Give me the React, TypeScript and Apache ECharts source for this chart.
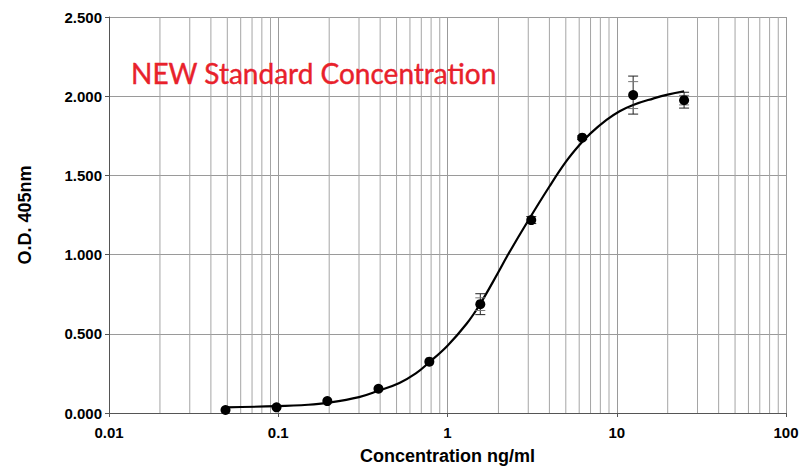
import React, { useEffect, useRef } from "react";
import * as echarts from "echarts";

// Standard concentrations (ng/ml), 2-fold dilutions
const concentrations = [0.0488, 0.0977, 0.195, 0.391, 0.781, 1.5625, 3.125, 6.25, 12.5, 25];
// Mean O.D. 405nm
const odMeans = [0.019, 0.036, 0.075, 0.153, 0.324, 0.687, 1.218, 1.738, 2.007, 1.975];
// Error bars (outer and inner caps)
const odErrors = [0, 0, 0, 0, 0, 0.066, 0.022, 0.012, 0.12, 0.05];
const odErrorsInner = [0, 0, 0, 0, 0, 0.04, 0, 0, 0.085, 0.03];

// Fitted curve points
const curveX = [0.0488, 0.0977, 0.15, 0.195, 0.3, 0.39, 0.52, 0.65, 0.78, 1.0, 1.3, 1.5625, 2.0, 2.25, 3.0, 4.0, 5.0, 6.0, 7.0, 8.7, 10.4, 12.5, 16.4, 20, 25];
const curveY = [0.036, 0.043, 0.052, 0.064, 0.10, 0.14, 0.19, 0.25, 0.32, 0.425, 0.565, 0.69, 0.89, 0.99, 1.215, 1.43, 1.585, 1.69, 1.765, 1.85, 1.905, 1.945, 1.985, 2.01, 2.03];

// Axis ticks
const xTickLabels = ["0.01", "0.1", "1", "10", "100"];
const yTicks = [0, 0.5, 1.0, 1.5, 2.0, 2.5];
const decades = [0.01, 0.1, 1, 10];
const minorMultipliers = [2, 3, 4, 5, 6, 7, 8, 9];

const titleText = "NEW Standard Concentration";
const xAxisTitle = "Concentration ng/ml";
const yAxisTitle = "O.D. 405nm";

export default function App() {
  const ref = useRef<HTMLDivElement>(null);
  useEffect(() => {
    document.body.style.margin = "0";
    const chart = echarts.init(ref.current!, null, { renderer: "svg" });
    const minorGrid: number[][] = [];
    decades.forEach((d) => minorMultipliers.forEach((m) => minorGrid.push([parseFloat((d * m).toPrecision(3)), 0])));
    const yMin = yTicks[0];
    const yMax = yTicks[yTicks.length - 1];
    const labelFont = { fontFamily: "Liberation Sans, Arial, sans-serif", fontWeight: "bold" as const, color: "#000" };

    chart.setOption({
      animation: false,
      grid: { left: 109, right: 14, top: 17, bottom: 54, containLabel: false, outerBoundsMode: "none" },
      xAxis: {
        type: "log",
        logBase: 10,
        min: 0.01,
        max: 100,
        name: xAxisTitle,
        nameLocation: "middle",
        nameGap: 34,
        nameTextStyle: { ...labelFont, fontSize: 18 },
        axisLine: { show: true, lineStyle: { color: "#555", width: 1 } },
        axisTick: { show: true, length: 4, lineStyle: { color: "#555" } },
        axisLabel: {
          ...labelFont,
          fontSize: 15,
          margin: 12,
          formatter: (v: number) => {
            const idx = Math.round(Math.log10(v)) + 2;
            return xTickLabels[idx] ?? String(v);
          },
        },
        splitLine: { show: true, lineStyle: { color: "#9a9a9a", width: 1 } },
      },
      yAxis: {
        type: "value",
        min: yMin,
        max: yMax,
        interval: 0.5,
        name: yAxisTitle,
        nameLocation: "middle",
        nameRotate: 90,
        nameGap: 75,
        nameTextStyle: { ...labelFont, fontSize: 18 },
        axisLine: { show: true, lineStyle: { color: "#555", width: 1 } },
        axisTick: { show: true, length: 4, lineStyle: { color: "#555" } },
        axisLabel: { ...labelFont, fontSize: 15, margin: 7, formatter: (v: number) => v.toFixed(3) },
        splitLine: { show: true, lineStyle: { color: "#9a9a9a", width: 1 } },
      },
      graphic: [
        {
          type: "text",
          x: 131,
          y: 73,
          z: 10,
          style: {
            text: titleText,
            fontFamily: "Lato, 'Open Sans', sans-serif",
            fontSize: 28,
            fill: "#e8212b",
            stroke: "#e8212b",
            lineWidth: 0.4,
            textAlign: "left",
            textVerticalAlign: "middle",
          },
        },
      ],
      series: [
        {
          type: "custom",
          silent: true,
          z: 1,
          data: minorGrid,
          renderItem: (params: any, api: any) => {
            const p1 = api.coord([api.value(0), yMin]);
            const p2 = api.coord([api.value(0), yMax]);
            return {
              type: "line",
              shape: { x1: p1[0], y1: p1[1], x2: p2[0], y2: p2[1] },
              style: { stroke: "#a5a5a5", lineWidth: 1 },
            };
          },
        },
        {
          type: "line",
          z: 3,
          smooth: 0.4,
          showSymbol: false,
          symbol: "none",
          data: curveX.map((x, i) => [x, curveY[i]]),
          lineStyle: { color: "#000", width: 2.2 },
        },
        {
          type: "custom",
          z: 4,
          silent: true,
          data: concentrations.map((x, i) => [x, odMeans[i], odErrors[i], odErrorsInner[i]]),
          renderItem: (params: any, api: any) => {
            const x = api.value(0);
            const y = api.value(1);
            const e = api.value(2);
            const ei = api.value(3);
            const children: any[] = [];
            const st = { stroke: "#222", lineWidth: 1 };
            if (e > 0) {
              const top = api.coord([x, y + e]);
              const bot = api.coord([x, y - e]);
              children.push({ type: "line", shape: { x1: top[0], y1: top[1], x2: bot[0], y2: bot[1] }, style: st });
              children.push({ type: "line", shape: { x1: top[0] - 5, y1: top[1], x2: top[0] + 5, y2: top[1] }, style: st });
              children.push({ type: "line", shape: { x1: bot[0] - 5, y1: bot[1], x2: bot[0] + 5, y2: bot[1] }, style: st });
            }
            if (ei > 0) {
              const top = api.coord([x, y + ei]);
              const bot = api.coord([x, y - ei]);
              children.push({ type: "line", shape: { x1: top[0] - 5, y1: top[1], x2: top[0] + 5, y2: top[1] }, style: { stroke: "#777", lineWidth: 1 } });
              children.push({ type: "line", shape: { x1: bot[0] - 5, y1: bot[1], x2: bot[0] + 5, y2: bot[1] }, style: { stroke: "#777", lineWidth: 1 } });
            }
            return { type: "group", children };
          },
        },
        {
          type: "scatter",
          z: 5,
          symbol: "circle",
          symbolSize: 10,
          data: concentrations.map((x, i) => [x, odMeans[i]]),
          itemStyle: { color: "#000", opacity: 1 },
        },
      ],
    });
    return () => chart.dispose();
  }, []);
  return <div ref={ref} style={{ width: 800, height: 467 }} />;
}
